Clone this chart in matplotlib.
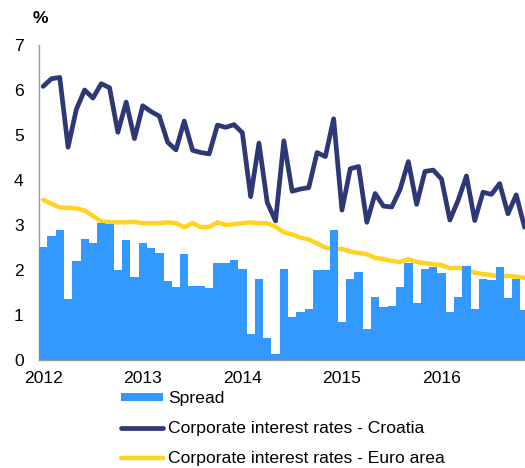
import matplotlib
matplotlib.use("Agg")
import matplotlib.pyplot as plt
import numpy as np

plt.rcParams['font.family'] = ['Liberation Sans', 'DejaVu Sans']

# Monthly data, Jan 2012 - Nov 2016
spread = [2.52, 2.76, 2.88, 1.35, 2.21, 2.68, 2.61, 3.05, 3.02, 1.99, 2.67, 1.85,
          2.59, 2.48, 2.37, 1.76, 1.63, 2.36, 1.64, 1.65, 1.61, 2.15, 2.15, 2.22,
          2.03, 0.58, 1.79, 0.48, 0.13, 2.03, 0.96, 1.07, 1.14, 2.00, 2.01, 2.89,
          0.84, 1.81, 1.96, 0.70, 1.41, 1.18, 1.19, 1.62, 2.16, 1.27, 2.02, 2.06,
          1.93, 1.06, 1.39, 2.09, 1.14, 1.81, 1.78, 2.07, 1.37, 1.80, 1.11]

croatia = [6.08, 6.25, 6.28, 4.73, 5.57, 6.00, 5.82, 6.14, 6.05, 5.06, 5.73, 4.92,
           5.65, 5.52, 5.42, 4.84, 4.67, 5.31, 4.66, 4.61, 4.58, 5.22, 5.17, 5.23,
           5.05, 3.63, 4.82, 3.50, 3.09, 4.87, 3.75, 3.80, 3.83, 4.61, 4.52, 5.36,
           3.33, 4.25, 4.30, 3.06, 3.70, 3.42, 3.40, 3.79, 4.41, 3.46, 4.19, 4.22,
           4.02, 3.11, 3.55, 4.09, 3.10, 3.73, 3.68, 3.92, 3.25, 3.67, 2.95]

euro = [3.56, 3.47, 3.39, 3.38, 3.37, 3.32, 3.20, 3.08, 3.06, 3.06, 3.06, 3.07,
        3.04, 3.04, 3.04, 3.06, 3.04, 2.95, 3.04, 2.95, 2.96, 3.06, 3.00, 3.02,
        3.04, 3.06, 3.04, 3.04, 2.96, 2.84, 2.79, 2.72, 2.68, 2.59, 2.50, 2.46,
        2.47, 2.41, 2.38, 2.35, 2.27, 2.24, 2.20, 2.18, 2.24, 2.18, 2.15, 2.13,
        2.11, 2.04, 2.05, 2.01, 1.94, 1.91, 1.89, 1.85, 1.87, 1.85, 1.83]

year_labels = ['2012', '2013', '2014', '2015', '2016']
y_ticks = [0, 1, 2, 3, 4, 5, 6, 7]

fig = plt.figure(figsize=(5.25, 4.68), dpi=100)
W, H = 525, 468
left, right, top, bottom = 39, 525, 45, 360
ax = fig.add_axes([left / W, 1 - bottom / H, (right - left) / W, (bottom - top) / H])

x = np.arange(len(spread))
h_euro, = ax.plot(x, euro, color='#FFD320', lw=3.2, solid_joinstyle='round',
                  solid_capstyle='round', zorder=2)
h_bar = ax.bar(x, spread, width=1.0, color='#3399FF', edgecolor='none', zorder=3)
h_cro, = ax.plot(x, croatia, color='#2E3876', lw=3.4, solid_joinstyle='round',
                 solid_capstyle='round', zorder=4)

ax.set_xlim(-0.5, -0.5 + (right - left) / 8.3)
ax.set_ylim(0, 7)
ax.set_yticks(y_ticks)
ax.set_xticks(np.arange(len(year_labels)) * 12)
ax.set_xticklabels(year_labels)
ax.tick_params(axis='both', length=0, labelsize=12.6, colors='black')
ax.tick_params(axis='y', pad=11)
ax.tick_params(axis='x', pad=8)
for s in ['top', 'right']:
    ax.spines[s].set_visible(False)
for s in ['left', 'bottom']:
    ax.spines[s].set_color('#999999')
    ax.spines[s].set_linewidth(1.0)

fig.text(33 / W, 1 - 11 / H, '%', fontsize=12.6, fontweight='bold', va='top', ha='left')

leg = fig.legend([h_bar, h_cro, h_euro],
                 ['Spread', 'Corporate interest rates - Croatia',
                  'Corporate interest rates - Euro area'],
                 loc='upper left', bbox_to_anchor=(121 / W, 1 - 391 / H),
                 frameon=False, fontsize=12.6, handlelength=2.4, handleheight=0.35,
                 handletextpad=0.3, labelspacing=0.85, borderpad=0, borderaxespad=0)

fig.savefig('out.png', dpi=100)
